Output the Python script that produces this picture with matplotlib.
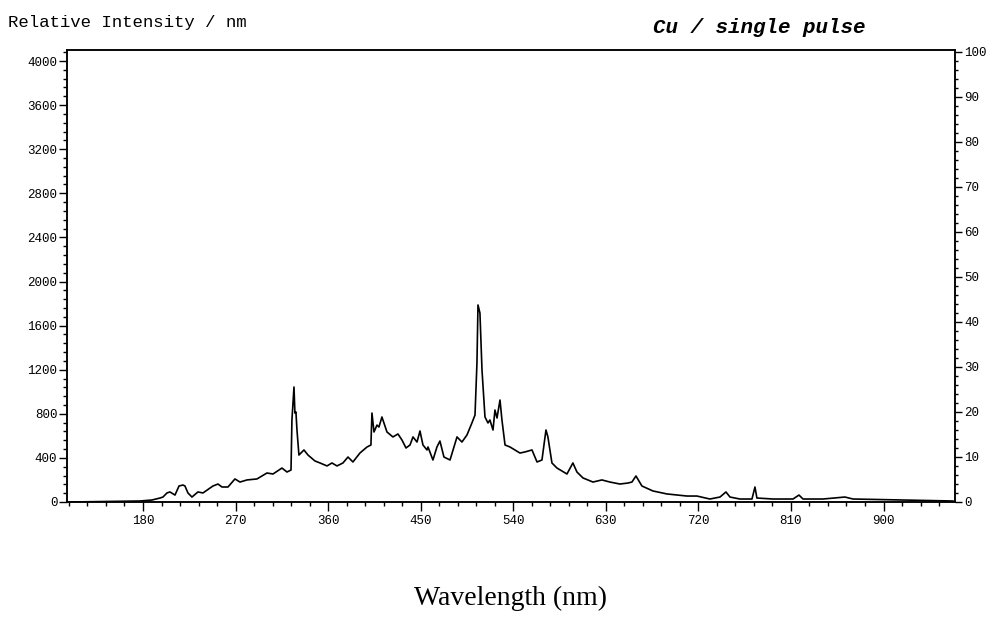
import matplotlib
matplotlib.use("Agg")
import matplotlib.pyplot as plt
from matplotlib.ticker import MultipleLocator

# spectrum (nm, relative intensity)
wavelength = [109, 177, 188.7, 196.5, 199.4, 203.3, 206.2, 211.1, 215.0, 218.9,
              220.8, 223.7, 227.6, 233.4, 238.3, 248.0, 252.9, 256.8, 262.6, 269.4,
              274.3, 281.1, 290.8, 300.5, 306.4, 315.1, 320.0, 323.9, 324.8, 326.8,
              327.7, 328.7, 329.7, 331.6, 336.5, 340.4, 347.2, 352.1, 358.9, 363.7,
              368.6, 374.4, 379.3, 384.1, 390.9, 397.8, 401.6, 402.6, 404.6, 407.5,
              409.4, 412.3, 417.2, 423.0, 427.9, 431.8, 435.7, 439.6, 442.5, 446.4,
              449.3, 452.2, 456.1, 457.1, 461.9, 465.8, 468.7, 472.6, 478.5, 485.3,
              490.1, 495.0, 499.8, 502.8, 504.7, 505.7, 507.6, 509.6, 512.5, 515.4,
              517.3, 520.3, 522.2, 524.2, 527.1, 529.0, 532.0, 536.8, 546.5, 551.4,
              558.2, 563.1, 567.9, 571.8, 573.7, 577.6, 582.5, 592.2, 598.0, 601.9,
              607.8, 617.5, 626.2, 634.0, 643.7, 651.5, 655.4, 659.3, 665.1, 675.8,
              689.4, 708.9, 718.6, 731.2, 741.0, 746.8, 750.7, 760.4, 772.1, 775.0,
              776.9, 792.5, 812.0, 817.8, 821.7, 841.1, 862.5, 870.3, 967.5]
intensity = [0, 9, 18, 36, 45, 82, 91, 63, 145, 154,
             145, 82, 45, 91, 82, 145, 163, 136, 136, 209,
             181, 200, 209, 263, 254, 308, 272, 290, 744, 1043,
             807, 816, 653, 426, 472, 426, 372, 354, 327, 354,
             327, 354, 408, 363, 444, 499, 517, 807, 635, 698,
             680, 771, 635, 590, 617, 562, 490, 517, 590, 544,
             644, 517, 472, 499, 381, 499, 553, 408, 381, 590,
             544, 608, 717, 789, 1261, 1787, 1714, 1197, 771, 717,
             744, 653, 834, 762, 925, 744, 517, 499, 444, 454,
             472, 363, 381, 653, 590, 354, 308, 254, 354, 272,
             218, 181, 200, 181, 163, 172, 181, 236, 145, 100,
             73, 54, 54, 27, 45, 91, 45, 27, 27, 136,
             36, 27, 27, 63, 27, 27, 45, 27, 9]

x_ticks = [180, 270, 360, 450, 540, 630, 720, 810, 900]
left_ticks = [0, 400, 800, 1200, 1600, 2000, 2400, 2800, 3200, 3600, 4000]
right_ticks = [0, 10, 20, 30, 40, 50, 60, 70, 80, 90, 100]

mono = "Liberation Mono"

fig = plt.figure(figsize=(10, 6.36), dpi=100)
ax = fig.add_axes([0.067, 0.2107, 0.888, 0.7107])
ax.plot(wavelength, intensity, color="black", lw=1.2)

ax.set_xlim(106.1, 969.5)
ax.set_ylim(0, 4100)
ax.set_xticks(x_ticks)
ax.set_yticks(left_ticks)
ax.xaxis.set_minor_locator(MultipleLocator(18))
ax.yaxis.set_minor_locator(MultipleLocator(80))
ax.tick_params(axis="both", which="major", direction="out", length=6, width=1,
               labelsize=9, colors="black")
ax.tick_params(axis="both", which="minor", direction="out", length=3, width=1)
ax.tick_params(axis="x", which="major", length=6.5, pad=3)
ax.tick_params(axis="y", which="major", length=5.5, pad=1.5)
for lbl in ax.get_xticklabels() + ax.get_yticklabels():
    lbl.set_family(mono)

# right hand percent scale
ax2 = ax.twinx()
ax2.set_ylim(0, 100.4)
ax2.set_yticks(right_ticks)
ax2.yaxis.set_minor_locator(MultipleLocator(2))
ax2.tick_params(axis="y", which="major", direction="out", length=5, width=1,
                labelsize=9, pad=1.5)
ax2.tick_params(axis="y", which="minor", direction="out", length=2.5, width=1)
for lbl in ax2.get_yticklabels():
    lbl.set_family(mono)

for a in (ax, ax2):
    for s in a.spines.values():
        s.set_linewidth(1.1)
        s.set_color("black")

fig.text(0.008, 0.9654, "Relative Intensity / nm", family=mono, fontsize=12.5,
         ha="left", va="center")
fig.text(0.759, 0.9575, "Cu / single pulse", family=mono, fontsize=15,
         weight="bold", style="italic", ha="center", va="center")
fig.text(0.511, 0.0597, "Wavelength (nm)", family="Liberation Serif", fontsize=20,
         ha="center", va="center")

fig.savefig("out.png", dpi=100, facecolor="white")
